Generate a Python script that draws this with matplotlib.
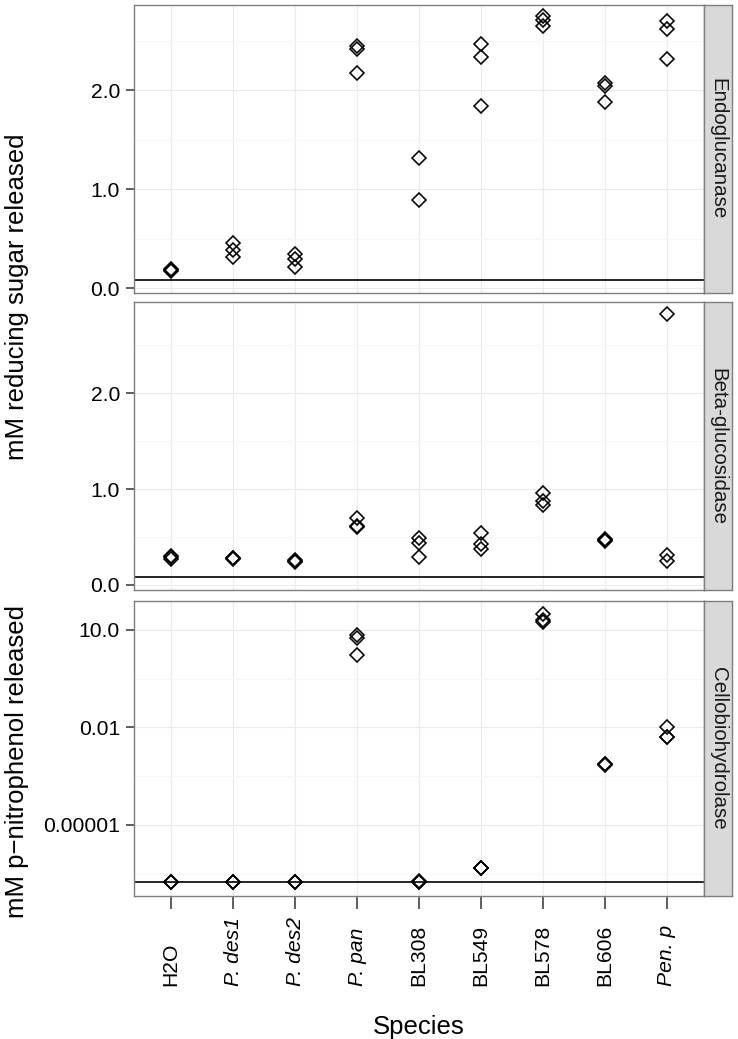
import matplotlib
matplotlib.use("Agg")
import matplotlib.pyplot as plt
import numpy as np

# ---------------- data ----------------
species = ["H2O", "P. des1", "P. des2", "P. pan", "BL308", "BL549", "BL578", "BL606", "Pen. p"]
italic_species = [False, True, True, True, False, False, False, False, True]

endo_vals = [
    [0.17, 0.18, 0.19],
    [0.45, 0.38, 0.31],
    [0.34, 0.29, 0.215],
    [2.44, 2.41, 2.17],
    [1.31, 0.89],
    [2.46, 2.33, 1.84],
    [2.75, 2.71, 2.65],
    [2.07, 2.04, 1.88],
    [2.70, 2.62, 2.31],
]
beta_vals = [
    [0.27, 0.29, 0.30],
    [0.27, 0.275, 0.28],
    [0.24, 0.25, 0.26],
    [0.70, 0.61, 0.60],
    [0.485, 0.44, 0.29],
    [0.54, 0.425, 0.37],
    [0.955, 0.88, 0.83],
    [0.46, 0.47, 0.48],
    [2.83, 0.31, 0.25],
]
cello_vals = [
    [1.8e-7, 1.8e-7, 1.8e-7],
    [1.8e-7, 1.8e-7, 1.8e-7],
    [1.8e-7, 1.8e-7, 1.8e-7],
    [7.0, 5.7, 1.7],
    [1.8e-7, 1.9e-7, 1.8e-7],
    [4.7e-7, 4.6e-7, 4.8e-7],
    [31.0, 18.0, 20.0],
    [7.4e-4, 7.6e-4, 7.2e-4],
    [0.010, 0.005, 0.0052],
]
endo_baseline = 0.08
beta_baseline = 0.077
cello_baseline = 1.8e-7

panel_names = ["Endoglucanase", "Beta-glucosidase", "Cellobiohydrolase"]
lin_ticks = [0.0, 1.0, 2.0]
lin_ticklabels = ["0.0", "1.0", "2.0"]
log_ticks = [10.0, 0.01, 0.00001]
log_ticklabels = ["10.0", "0.01", "0.00001"]

# ---------------- style ----------------
plt.rcParams['font.family'] = ['Liberation Sans', 'DejaVu Sans']
W, H = 738, 1039
fig = plt.figure(figsize=(W / 100, H / 100), dpi=100)

TICK_FS = 15.2
STRIP_FS = 14.8
TITLE_FS = 18.5
BORDER = "#7F7F7F"
GRID_MAJ = "#EBEBEB"
GRID_MIN = "#F7F7F7"
STRIP_FILL = "#D9D9D9"

def fx(px):
    return px / W

def fy(py):
    return 1 - py / H

left_px, right_px = 134, 704
strip_w = 28
panels_px = [(5, 293), (302, 590), (601, 896)]

axes = []
for (top, bot) in panels_px:
    ax = fig.add_axes([fx(left_px), fy(bot), fx(right_px - left_px), (bot - top) / H])
    axes.append(ax)
    sax = fig.add_axes([fx(right_px), fy(bot), fx(strip_w), (bot - top) / H])
    sax.set_xticks([]); sax.set_yticks([])
    sax.set_facecolor(STRIP_FILL)
    for s in sax.spines.values():
        s.set_color(BORDER); s.set_linewidth(1.0)
    sax.text(0.5, 0.5, panel_names[len(axes) - 1], rotation=-90, ha='center', va='center',
             fontsize=STRIP_FS, color='#1A1A1A', transform=sax.transAxes)

x_pos = np.arange(len(species))

def style_axis(ax):
    ax.set_xlim(-0.6, len(species) - 0.4)
    ax.set_facecolor('white')
    for s in ax.spines.values():
        s.set_color(BORDER); s.set_linewidth(1.0)
    ax.set_axisbelow(True)
    ax.grid(True, which='major', color=GRID_MAJ, lw=0.8)
    ax.grid(True, which='minor', axis='y', color=GRID_MIN, lw=0.8)
    ax.set_xticks(x_pos)
    ax.tick_params(axis='both', which='major', length=6, width=1.1, color='#333333',
                   labelsize=TICK_FS, labelcolor='black', pad=4)
    ax.tick_params(axis='both', which='minor', length=0)

def plot_points(ax, vals, baseline):
    ax.axhline(baseline, color='black', lw=1.2, zorder=2)
    for i, vs in enumerate(vals):
        ax.plot([x_pos[i]] * len(vs), vs, linestyle='none', marker='D', markersize=6.8,
                markerfacecolor='none', markeredgecolor='black', markeredgewidth=1.15, zorder=3)

# Panel 1
ax1 = axes[0]
style_axis(ax1)
plot_points(ax1, endo_vals, endo_baseline)
ax1.set_ylim(-0.0505, 2.859)
ax1.set_yticks(lin_ticks)
ax1.set_yticklabels(lin_ticklabels)
ax1.set_yticks([0.5, 1.5, 2.5], minor=True)
ax1.tick_params(axis='x', length=0, labelbottom=False)

# Panel 2
ax2 = axes[1]
style_axis(ax2)
plot_points(ax2, beta_vals, beta_baseline)
ax2.set_ylim(-0.055, 2.954)
ax2.set_yticks(lin_ticks)
ax2.set_yticklabels(lin_ticklabels)
ax2.set_yticks([0.5, 1.5, 2.5], minor=True)
ax2.tick_params(axis='x', length=0, labelbottom=False)

# Panel 3 (log)
ax3 = axes[2]
ax3.set_yscale('log')
style_axis(ax3)
plot_points(ax3, cello_vals, cello_baseline)
ax3.set_ylim(10 ** (-7.185), 10 ** 1.892)
ax3.set_yticks(log_ticks)
ax3.set_yticklabels(log_ticklabels)
ax3.yaxis.set_minor_locator(matplotlib.ticker.FixedLocator([10 ** -0.5, 10 ** -3.5, 10 ** -6.5]))
ax3.yaxis.set_minor_formatter(matplotlib.ticker.NullFormatter())
ax3.grid(True, which='minor', axis='y', color=GRID_MIN, lw=0.8)
ax3.tick_params(axis='x', length=9, labelbottom=False)

# x tick labels: rotated, start at common baseline
label_bottom_y = fy(986)
trans = matplotlib.transforms.blended_transform_factory(ax3.transData, fig.transFigure)
for i, name in enumerate(species):
    fig.text(x_pos[i], label_bottom_y, name, rotation=90, ha='center', va='bottom',
             fontsize=TICK_FS, style='italic' if italic_species[i] else 'normal',
             transform=trans, color='black')

# axis titles
fig.text(fx(17), fy(297), "mM reducing sugar released", rotation=90, ha='center', va='center',
         fontsize=TITLE_FS)
fig.text(fx(17), fy(761), "mM p\u2212nitrophenol released", rotation=90, ha='center', va='center',
         fontsize=TITLE_FS)
fig.text(fx(419), fy(1027), "Species", ha='center', va='center', fontsize=TITLE_FS)

fig.savefig("out.png", dpi=100, facecolor='white')
